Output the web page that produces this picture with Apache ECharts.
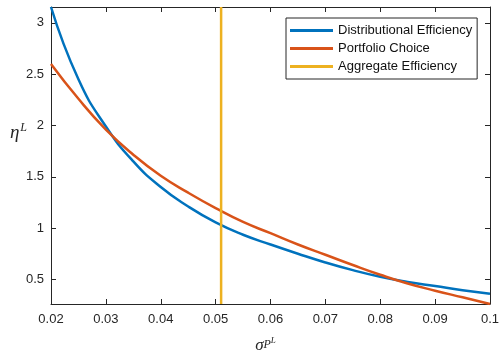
<!DOCTYPE html>
<html><head><meta charset="utf-8">
<script src="https://cdn.jsdelivr.net/npm/echarts@6/dist/echarts.min.js"></script>
<style>html,body{margin:0;padding:0;background:#fff}#c{width:500px;height:350px}</style>
</head><body><div id="c"></div>
<script>
const xValues = [0.02,0.025,0.03,0.035,0.04,0.045,0.05,0.055,0.06,0.065,0.07,0.075,0.08,0.085,0.09,0.095,0.1];
const distributionalEfficiency = [3.155,2.45,1.99,1.65,1.40,1.21,1.055,0.935,0.84,0.75,0.665,0.59,0.525,0.475,0.435,0.395,0.36];
const portfolioChoice = [2.60,2.26,1.96,1.715,1.51,1.345,1.195,1.06,0.95,0.84,0.74,0.64,0.545,0.46,0.39,0.325,0.26];
const aggregateX = [0.051, 0.051];
const aggregateY = [0.26, 3.155];
const yTicks = [0.5,1,1.5,2,2.5,3];
const seriesNames = ['Distributional Efficiency','Portfolio Choice','Aggregate Efficiency'];

const TXT = '#262626';
const FONT = 'Liberation Sans';
const chart = echarts.init(document.getElementById('c'), null, {renderer:'canvas'});
const pair = (xs, ys) => xs.map((x,i)=>[x, ys[i]]);
const lineCommon = {type:'line', showSymbol:false, smooth:0.5, animation:false};
const axLine = {show:true, onZero:false, lineStyle:{color:TXT, width:1}};
chart.setOption({
  animation:false,
  backgroundColor:'#fff',
  grid:{left:51, right:10, top:7, bottom:46, containLabel:false, outerBoundsMode:'none'},
  legend:{
    data:seriesNames, orient:'vertical', left:286, top:18,
    padding:[5,5,5,4], itemGap:3, itemWidth:43, itemHeight:3, icon:'rect',
    borderColor:TXT, borderWidth:1, backgroundColor:'#fff', borderRadius:0,
    textStyle:{fontFamily:FONT, fontSize:13, color:'#111', lineHeight:15, padding:[0,0,0,0]}
  },
  xAxis:[
    {type:'value', min:0.02, max:0.1, interval:0.01, position:'bottom',
     axisLine:axLine, axisTick:{inside:true, length:5, lineStyle:{color:TXT}},
     axisLabel:{color:TXT, fontFamily:FONT, fontSize:13, margin:9},
     splitLine:{show:false},
     name:'{s|σ}{p|P}{l|L}', nameLocation:'middle', nameGap:32, nameMoveOverlap:false,
     nameTextStyle:{padding:[0,10,0,0], rich:{
       s:{fontFamily:'Liberation Serif', fontStyle:'italic', fontSize:17, color:TXT, lineHeight:20},
       p:{fontFamily:'Liberation Serif', fontStyle:'italic', fontSize:12, color:TXT, verticalAlign:'top', padding:[3,0,0,0]},
       l:{fontFamily:'Liberation Serif', fontStyle:'italic', fontSize:9, color:TXT, verticalAlign:'top'}
     }}},
    {type:'value', min:0.02, max:0.1, interval:0.01, position:'top',
     axisLine:axLine, axisTick:{inside:true, length:5, lineStyle:{color:TXT}},
     axisLabel:{show:false}, splitLine:{show:false}}
  ],
  yAxis:[
    {type:'value', min:0.26, max:3.155, position:'left',
     axisLine:axLine, axisTick:{inside:true, length:5, customValues:yTicks, lineStyle:{color:TXT}},
     axisLabel:{customValues:yTicks, color:TXT, fontFamily:FONT, fontSize:13, margin:7},
     splitLine:{show:false},
     name:'{e|η}{l|L}', nameLocation:'middle', nameRotate:0, nameGap:24, nameMoveOverlap:false,
     nameTextStyle:{padding:[0,0,46,0], rich:{
       e:{fontFamily:'Liberation Serif', fontStyle:'italic', fontSize:19, color:TXT, lineHeight:22},
       l:{fontFamily:'Liberation Serif', fontStyle:'italic', fontSize:12, color:TXT, verticalAlign:'top', padding:[0,0,0,1]}
     }}},
    {type:'value', min:0.26, max:3.155, position:'right',
     axisLine:axLine, axisTick:{inside:true, length:5, customValues:yTicks, lineStyle:{color:TXT}},
     axisLabel:{show:false}, splitLine:{show:false}}
  ],
  series:[
    Object.assign({}, lineCommon, {name:seriesNames[0], data:pair(xValues, distributionalEfficiency),
      itemStyle:{color:'#0072BD'}, lineStyle:{color:'#0072BD', width:2.5}}),
    Object.assign({}, lineCommon, {name:seriesNames[1], data:pair(xValues, portfolioChoice),
      itemStyle:{color:'#D95319'}, lineStyle:{color:'#D95319', width:2.5}}),
    {type:'line', name:seriesNames[2], showSymbol:false, data:pair(aggregateX, aggregateY),
      itemStyle:{color:'#EDB120'}, lineStyle:{color:'#EDB120', width:2.5}}
  ]
});
</script></body></html>
